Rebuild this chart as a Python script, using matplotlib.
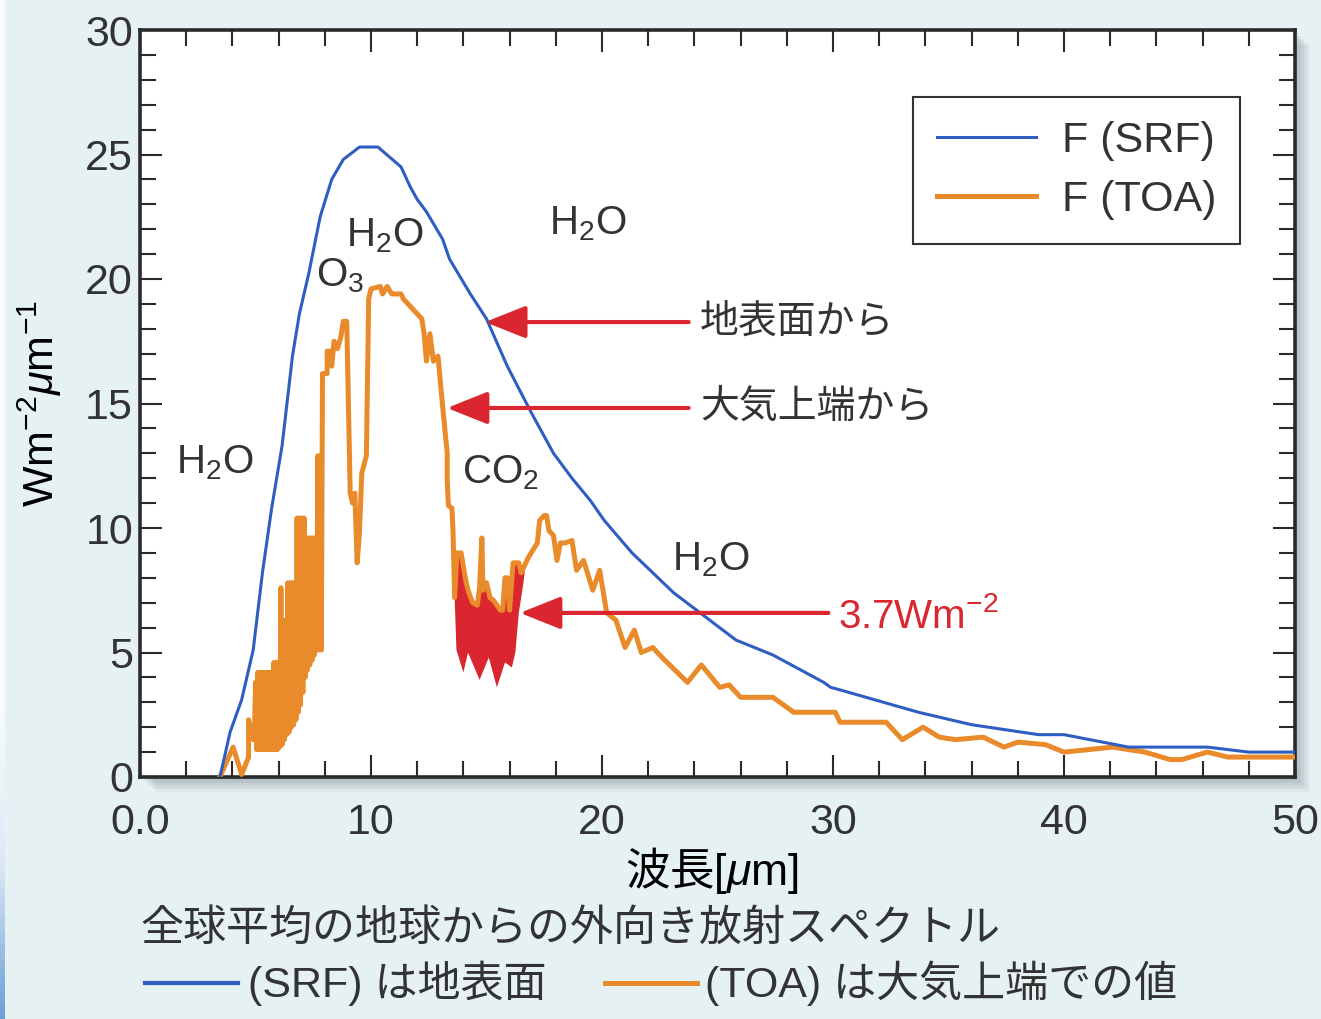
import numpy as np
import matplotlib
matplotlib.use("Agg")
import matplotlib.pyplot as plt
from matplotlib.lines import Line2D
from matplotlib.patches import Rectangle

plt.rcParams['font.family'] = ['Liberation Sans', 'Noto Sans CJK JP']
plt.rcParams['mathtext.fontset'] = 'custom'
plt.rcParams['mathtext.rm'] = 'Liberation Sans'
plt.rcParams['mathtext.it'] = 'Liberation Sans:italic'
plt.rcParams['mathtext.bf'] = 'Liberation Sans:bold'
plt.rcParams['mathtext.sf'] = 'Noto Sans CJK JP'
TXT = '#333333'
plt.rcParams['text.color'] = TXT
plt.rcParams['xtick.color'] = '#2a2a2a'
plt.rcParams['ytick.color'] = '#2a2a2a'
plt.rcParams['xtick.labelcolor'] = TXT
plt.rcParams['ytick.labelcolor'] = TXT

# ---------------- data ----------------
srf_x = [3.46, 3.9, 4.4, 4.9, 5.3, 5.7, 6.15, 6.6, 6.9, 7.3, 7.8, 8.3, 8.8, 9.5, 10.3,
         11.3, 11.7, 12.0, 12.4, 13.1, 13.4, 14.3, 15.0, 15.9, 16.9, 17.9, 18.7, 19.5,
         20.1, 21.3, 23.1, 25.8, 27.4, 29.6, 29.9, 30.3, 33.7, 36.0, 38.9, 40.0, 42.8,
         46.2, 48.0, 50.0]
srf_y = [0.0, 1.8, 3.1, 5.1, 8.2, 10.8, 13.3, 16.9, 18.6, 20.2, 22.5, 24.0, 24.8, 25.3, 25.3,
         24.5, 23.7, 23.2, 22.7, 21.6, 20.8, 19.4, 18.4, 16.5, 14.7, 13.0, 12.0, 11.1,
         10.3, 9.0, 7.4, 5.5, 4.9, 3.8, 3.6, 3.5, 2.6, 2.1, 1.7, 1.7, 1.2,
         1.2, 1.0, 1.0]

toa_x = [3.46, 4.03, 4.4, 4.7, 4.7, 4.9,
         4.95, 5.00, 5.05, 5.10, 5.15, 5.20, 5.25, 5.30, 5.35, 5.40, 5.45, 5.50, 5.55, 5.60,
         5.65, 5.70, 5.75, 5.80, 5.85, 5.90, 5.95, 6.00, 6.05, 6.10, 6.15, 6.20, 6.25, 6.30,
         6.35, 6.40, 6.45, 6.50, 6.55, 6.60, 6.65, 6.70, 6.75, 6.80, 6.85, 6.90, 6.95, 7.00,
         7.05, 7.10, 7.15, 7.20, 7.25, 7.30, 7.35, 7.40, 7.45, 7.50, 7.55, 7.60, 7.65, 7.70,
         7.75, 7.80, 7.85,
         7.9, 8.1, 8.1, 8.25, 8.3, 8.4, 8.55, 8.7, 8.8, 8.95, 9.1, 9.2, 9.3, 9.4, 9.5, 9.6,
         9.8, 9.9, 10.0, 10.4, 10.5, 10.7, 10.9, 11.3, 11.4, 11.7, 12.0, 12.2, 12.3, 12.4,
         12.55, 12.7, 12.9, 13.1, 13.3, 13.3, 13.35, 13.5, 13.55, 13.62, 13.72, 13.9, 14.1,
         14.2, 14.4, 14.6, 14.7, 14.8, 14.85, 15.0, 15.15, 15.3, 15.6, 15.7, 15.8, 15.9,
         16.0, 16.15, 16.4, 16.5, 16.7, 16.8, 17.2, 17.3, 17.5, 17.6, 17.7, 17.9, 18.05,
         18.2, 18.4, 18.7, 18.9, 19.2, 19.6, 19.9, 20.2, 20.6, 21.0, 21.4, 21.7, 22.2, 22.6,
         23.7, 24.3, 25.1, 25.5, 26.0, 27.4, 28.3, 30.1, 30.3, 32.3, 33.0, 33.9, 34.6, 35.3,
         36.5, 37.4, 38.0, 39.2, 40.0, 42.1, 43.5, 44.6, 45.1, 46.2, 47.1, 50.0]
toa_y = [0.0, 1.2, 0.1, 0.8, 2.3, 1.5,
         1.5, 3.8, 1.1, 4.2, 1.1, 4.2, 1.1, 4.2, 1.1, 4.2, 1.1, 4.2, 1.1, 4.2,
         1.1, 4.2, 1.1, 4.6, 1.1, 4.6, 1.1, 4.6, 1.2, 7.6, 1.3, 5.0, 1.5, 6.3,
         1.7, 7.8, 1.8, 7.8, 2.0, 7.8, 2.1, 7.8, 2.3, 10.4, 2.6, 10.4, 2.9, 10.4,
         3.4, 10.4, 4.0, 9.6, 4.3, 9.6, 4.5, 9.6, 4.7, 9.6, 4.9, 9.6, 5.1, 12.9,
         5.1, 12.9, 5.1,
         16.2, 16.2, 17.1, 17.1, 16.5, 17.5, 17.2, 17.7, 18.3, 18.3, 11.4, 11.0, 11.4, 8.6, 9.8, 12.2,
         12.9, 19.2, 19.6, 19.7, 19.4, 19.7, 19.4, 19.4, 19.2, 18.9, 18.6, 18.4, 17.8, 16.7,
         17.8, 16.7, 16.9, 14.9, 13.0, 11.9, 10.9, 10.8, 9.9, 7.2, 9.0, 9.0, 7.9,
         7.5, 7.0, 6.9, 7.6, 9.6, 7.5, 7.8, 7.2, 7.1, 6.7, 6.7, 8.0, 8.0,
         6.7, 8.6, 8.6, 8.2, 8.6, 8.8, 9.4, 10.3, 10.5, 10.5, 9.9, 9.7, 8.7,
         9.4, 9.4, 9.5, 8.3, 8.7, 7.5, 8.3, 6.6, 6.3, 5.2, 5.9, 5.0, 5.2, 4.8,
         3.8, 4.5, 3.6, 3.7, 3.2, 3.2, 2.6, 2.6, 2.2, 2.2, 1.5, 2.0, 1.6, 1.5,
         1.6, 1.2, 1.4, 1.3, 1.0, 1.2, 1.0, 0.7, 0.7, 1.0, 0.8, 0.8]

# lower boundary of the 3.7 W/m2 region (doubled CO2)
red_x = [13.62, 13.7, 14.0, 14.2, 14.7, 15.1, 15.45, 15.8, 16.1, 16.25, 16.4, 16.6, 16.7]
red_y = [7.2, 5.1, 4.2, 5.0, 3.9, 4.8, 3.6, 4.6, 4.4, 5.0, 6.6, 7.8, 8.6]

xticks = [0, 10, 20, 30, 40, 50]
xtick_labels = ['0.0', '10', '20', '30', '40', '50']
yticks = [0, 5, 10, 15, 20, 25, 30]

# ---------------- style ----------------
BG = '#e5f1f3'
BLUE = '#2f5ec2'
ORANGE = '#e98b2a'
RED = '#d9262f'
W, H = 1321, 1019

fig = plt.figure(figsize=(W / 100, H / 100), dpi=100)
fig.patch.set_facecolor(BG)

# left edge strip: white at top, blue towards the bottom
sax = fig.add_axes([0, 0, 5 / W, 1])
t = np.linspace(0, 1, 300).reshape(-1, 1)
grad = np.clip((0.30 - t) / 0.30, 0, 1)
sax.imshow(grad, aspect='auto', cmap=matplotlib.colors.LinearSegmentedColormap.from_list(
    'g', ['#f7fbfd', '#dde8f6', '#6a9fd6']), origin='lower', extent=[0, 1, 0, 1])
sax.axis('off')

# drop shadow behind the plot frame
for k, a in zip(range(1, 6), [0.10, 0.10, 0.09, 0.08, 0.07]):
    off = 3 * k
    fig.add_artist(Rectangle(((140 + off) / W, 1 - (777 + off) / H), 1155 / W, 747 / H,
                             transform=fig.transFigure, facecolor='#5a6670', alpha=a,
                             edgecolor='none', zorder=0))

ax = fig.add_axes([140 / W, 1 - 777 / H, 1155 / W, 747 / H])
ax.set_facecolor('white')
ax.set_zorder(2)

ax.plot(srf_x, srf_y, color=BLUE, lw=2.2, label='F (SRF)', zorder=4)
ax.plot(toa_x, toa_y, color=ORANGE, lw=3.6, label='F (TOA)', zorder=3)

top_x = [x for x in toa_x if 13.62 <= x <= 16.7]
top_y = [y for x, y in zip(toa_x, toa_y) if 13.62 <= x <= 16.7]
ax.fill(top_x + red_x[::-1], top_y + red_y[::-1], color=RED, lw=0, zorder=2.5)

ax.set_xlim(0, 50)
ax.set_ylim(0, 30)
ax.set_xticks(xticks)
ax.set_xticklabels(xtick_labels)
ax.set_yticks(yticks)
ax.set_xticks(np.arange(0, 51, 2), minor=True)
ax.set_yticks(np.arange(0, 31, 1), minor=True)
ax.tick_params(which='both', direction='in', top=True, right=True, width=1.5)
ax.tick_params(which='major', length=16, labelsize=31)
ax.tick_params(which='minor', length=11.5)
ax.tick_params(axis='x', pad=19)
ax.tick_params(axis='y', pad=5)
for s in ax.spines.values():
    s.set_linewidth(2.6)
    s.set_color('#2a2a2a')

ax.set_ylabel(r'Wm$^{-2}\mu$m$^{-1}$', fontsize=31, labelpad=0)
ax.yaxis.label.set_va('center')
ax.yaxis.set_label_coords(-0.087, 0.5)
ax.set_xlabel(r'$\mathsf{波長}[\mu\mathrm{m}]$', fontsize=32, labelpad=0)
ax.xaxis.label.set_va('center')
ax.xaxis.set_label_coords(0.495, -0.1245)

leg = ax.legend(loc='upper right', bbox_to_anchor=(0.952, 0.910), borderaxespad=0,
                fontsize=31, handlelength=2.3, handletextpad=0.6, borderpad=0.55,
                labelspacing=0.45, fancybox=False, framealpha=1)
leg.get_frame().set_edgecolor('#333333')
leg.get_frame().set_linewidth(1.5)

# gas labels
gas = [('H$_\\mathrm{2}$O', 3.25, 12.2), ('O$_\\mathrm{3}$', 8.66, 19.7),
       ('H$_\\mathrm{2}$O', 10.6, 21.3), ('H$_\\mathrm{2}$O', 19.4, 21.8),
       ('CO$_\\mathrm{2}$', 15.6, 11.8), ('H$_\\mathrm{2}$O', 24.7, 8.3)]
for t_, x, y in gas:
    ax.text(x, y, t_, fontsize=29, ha='center', va='baseline', zorder=6)

# arrows
arrows = [('地表面から', 24.24, 18.27, 14.94),
          ('大気上端から', 24.24, 14.82, 13.29)]
for t_, x, y, tip in arrows:
    ax.annotate('', xy=(tip, y), xytext=(23.75, y),
                arrowprops=dict(arrowstyle='-|>,head_length=1.0,head_width=0.4',
                                mutation_scale=25, color=RED, lw=3, shrinkA=0, shrinkB=0),
                zorder=7)
    ax.text(x, y, t_, fontsize=28, ha='left', va='center', zorder=7)

ax.annotate('', xy=(16.45, 6.59), xytext=(29.8, 6.59),
            arrowprops=dict(arrowstyle='-|>,head_length=1.0,head_width=0.4',
                            mutation_scale=25, color=RED, lw=3, shrinkA=0, shrinkB=0),
            zorder=7)
ax.text(30.2, 5.98, '3.7Wm$^{-2}$', fontsize=29, ha='left', va='baseline', color=RED, zorder=7)

# caption
fig.text(140 / W, 1 - 930 / H, '全球平均の地球からの外向き放射スペクトル', fontsize=31,
         ha='left', va='center')
fig.add_artist(Line2D([145 / W, 238 / W], [1 - 983 / H] * 2, color=BLUE, lw=3,
                      transform=fig.transFigure))
fig.text(248 / W, 1 - 983 / H, '(SRF) は地表面', fontsize=31, ha='left', va='center')
fig.add_artist(Line2D([605 / W, 697 / W], [1 - 983 / H] * 2, color=ORANGE, lw=3.6,
                      transform=fig.transFigure))
fig.text(705 / W, 1 - 983 / H, '(TOA) は大気上端での値', fontsize=31, ha='left', va='center')

fig.savefig('out.png', dpi=100, facecolor=BG)
